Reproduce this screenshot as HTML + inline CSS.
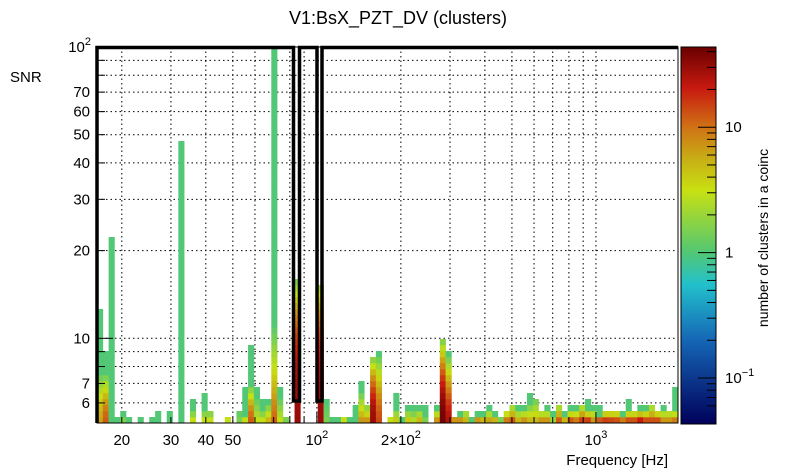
<!DOCTYPE html>
<html><head><meta charset="utf-8"><style>
html,body{margin:0;padding:0;background:#fff;}
svg{display:block;font-family:"Liberation Sans",Arial,sans-serif;}
</style></head><body>
<svg id="c" width="805" height="472" viewBox="0 0 805 472" xmlns="http://www.w3.org/2000/svg">
<defs>
<linearGradient id="pal" x1="0" y1="1" x2="0" y2="0">
<stop offset="0" stop-color="#00005a"/><stop offset="0.22" stop-color="#1565b5"/><stop offset="0.37" stop-color="#22c0cc"/><stop offset="0.46" stop-color="#55c870"/><stop offset="0.62" stop-color="#c8e012"/><stop offset="0.70" stop-color="#c8b015"/><stop offset="0.79" stop-color="#d07015"/><stop offset="0.89" stop-color="#c81a10"/><stop offset="1" stop-color="#6a0000"/>
</linearGradient>
</defs>
<text x="398" y="24" font-size="18" text-anchor="middle">V1:BsX_PZT_DV (clusters)</text>
<text x="10" y="82" font-size="15">SNR</text>
<text x="668" y="465" font-size="15" text-anchor="end">Frequency [Hz]</text>
<text transform="translate(768,238) rotate(-90)" font-size="14" text-anchor="middle">number of clusters in a coinc</text>
<g id="grid"></g>
<g id="cells"></g>
<g id="axes"></g>
<rect x="681" y="47" width="35" height="377" fill="url(#pal)" stroke="#000" stroke-width="1"/>
<g id="cbar"></g>
</svg>
<script>
// data
const binSNR = [12.4,9.0,22.4,5.37,5.63,5.37,0,5.37,0,5.37,5.63,0,5.63,0,47,0,6.18,0,6.48,5.63,0,0,5.37,0,5.63,6.79,9.4,6.79,6.18,6.18,100,6.79,5.37,0,15.7,0,0,0,15.0,6.18,5.37,5.37,5.37,5.37,5.90,7.12,5.90,8.6,9.0,0,5.37,6.48,5.37,5.90,5.90,5.90,5.90,0,5.90,9.9,9.0,5.37,5.63,5.63,5.37,5.63,5.63,5.90,5.63,5.37,5.63,5.90,5.90,5.90,6.48,6.18,5.63,5.90,5.63,5.90,5.63,5.90,5.90,5.90,6.18,5.90,5.90,5.63,5.63,5.63,5.63,6.18,5.63,5.90,5.90,5.90,5.63,5.90,5.63,6.79];
const binCount = [6,12,1,1,1.5,1,0,1,0,1,1,0,1,0,1,0,3,0,3,3,0,0,3,0,1.5,3,12,3,3,5,12,3,1.5,0,30,0,0,0,30,1.5,1,1,3,1,1,7,7,30,14,0,3,4,1,4,2.5,5,1.5,0,7,40,25,7,7,5,1,7,5,6,5,1.5,9,12,5,7,5,5,7,7,2,12,5,12,9,15,15,7,12,15,14,13,9,13,13,20,13,13,13,7,7,9];
const binWarm = [8,8,1,1,1,1,0,1,0,1,1,0,1,0,1,0,2,0,2,2,0,0,1,0,2,1,6,4,2,3,16,4,1,0,24,0,0,0,24,3,1,1,1,1,1,5,3,11,11,0,1,2,1,2,2,2,1,0,2,14,11,1,1,2,1,1,1,2,1,1,2,3,2,2,3,4,2,2,1,3,1,2,2,3,2,2,1,2,2,2,1,2,2,2,2,3,2,2,2,2];
const binShape = [1.5,1.5,1,1,1,1,1,1,1,1,1,1,1,1,1,1,1,1,1,1,1,1,1,1,1,1,1.5,1,1,1,1,1,1,1,3,1,1,1,3,1,1,1,1,1,1,1,1,2,1.5,1,1,1,1,1,1,1,1,1,1,2,1.5,1,1,1,1,1,1,1,1,1,1,1,1,1,1,1,1,1,1,1,1,1,1,1,1,1,1,1,1,1,1,1,1,1,1,1,1,1,1,1];
const xTicks = [20,30,40,50,60,70,80,90,100,200,300,400,500,600,700,800,900,1000];
const xLabels = [[20,"20"],[30,"30"],[40,"40"],[50,"50"]];
const yTicks = [6,7,8,9,10,20,30,40,50,60,70,80,90,100];
const yLabels = [6,7,10,20,30,40,50,60,70];
const cbTicks = [10,1,0.1];

const NS="http://www.w3.org/2000/svg";
const X0=97,X1=678,Y0=47,Y1=423;
const xMin=Math.log10(16.3),xMax=Math.log10(1968);
const yMin=Math.log10(5.12),yMax=2;
const xs=v=>X0+(Math.log10(v)-xMin)/(xMax-xMin)*(X1-X0);
const ys=v=>Y1-(Math.log10(v)-yMin)/(yMax-yMin)*(Y1-Y0);
const cMin=Math.log10(0.043),cMax=Math.log10(43.6);
const cy=v=>424-(Math.log10(v)-cMin)/(cMax-cMin)*377;
const stops=[[0,[0,0,90]],[0.22,[21,101,181]],[0.37,[34,192,204]],[0.46,[85,200,112]],[0.62,[200,224,18]],[0.70,[200,176,21]],[0.79,[208,112,21]],[0.89,[200,26,16]],[1,[106,0,0]]];
function col(c){let t=(Math.log10(c)-cMin)/(cMax-cMin);t=Math.max(0,Math.min(1,t));
 for(let i=1;i<stops.length;i++){if(t<=stops[i][0]){const a=stops[i-1],b=stops[i],f=(t-a[0])/(b[0]-a[0]);
 return "rgb("+a[1].map((v,k)=>Math.round(v+(b[1][k]-v)*f)).join(",")+")";}}return "rgb(106,0,0)";}
function mk(tag,at,parent){const e=document.createElementNS(NS,tag);for(const k in at)e.setAttribute(k,at[k]);parent.appendChild(e);return e;}
const grid=document.getElementById('grid'),cells=document.getElementById('cells'),axes=document.getElementById('axes'),cbar=document.getElementById('cbar');
xTicks.forEach(v=>{const l=mk('line',{x1:xs(v),x2:xs(v),y1:Y0,y2:Y1,stroke:'#000','stroke-width':1,'stroke-dasharray':'1.5,3'},grid);

});
yTicks.forEach(v=>{const l=mk('line',{x1:X0,x2:X1,y1:ys(v),y2:ys(v),stroke:'#000','stroke-width':1,'stroke-dasharray':'1.5,3'},grid);

});
// cells
const N=binSNR.length,bw=(X1-X0)/N;
const rStep=6/292;
for(let i=0;i<N;i++){if(!binSNR[i])continue;
 const n=Math.max(1,Math.round(Math.log10(binSNR[i]/5.12)/rStep));
 for(let k=0;k<n;k++){const w=binWarm[i];let c=binCount[i];
  c=(k<w)?Math.pow(c,1-Math.pow(k/w,binShape[i])):1;
  const yb=Math.max(Y0,Y1-k*6),yt=Math.max(Y0,Y1-(k+1)*6);if(yb<=yt)break;
  const r=mk('rect',{x:(X0+i*bw).toFixed(2),y:yt,width:(bw+0.3).toFixed(2),height:yb-yt+0.3,fill:col(c)},cells);
  
  }}
// contour
const p=mk('path',{d:'M97,423 V47.5 H293.5 V401 H299.5 V47.5 H317 V401 H322 V47.5 H678',fill:'none',stroke:'#000','stroke-width':3.5},axes);


const fr=mk('rect',{x:X0,y:Y0,width:X1-X0,height:Y1-Y0,fill:'none',stroke:'#000','stroke-width':1},axes);


xTicks.forEach(v=>{const big=(v===100||v===1000);const l=mk('line',{x1:xs(v),x2:xs(v),y1:Y1,y2:Y1-(big?11:6),stroke:'#000'},axes);

});
yTicks.forEach(v=>{const big=(v===10||v===100);const l=mk('line',{x1:X0,x2:X0+(big?16:8),y1:ys(v),y2:ys(v),stroke:'#000'},axes);

});
xLabels.forEach(d=>{const t=mk('text',{x:xs(d[0]),y:445,'font-size':15,'text-anchor':'middle'},axes);t.textContent=d[1];

});
function pow(x,y,pre,exp,parent,anchor,name){const t=mk('text',{x:x,y:y,'font-size':15,'text-anchor':anchor},parent);
 t.appendChild(document.createTextNode(pre+'10'));const s=mk('tspan',{dy:-7,'font-size':11},t);s.textContent=exp;
 
 return t;}
pow(xs(100),445,'','2',axes,'middle','x-tick-label');
pow(xs(200),445,'2\u00d7','2',axes,'middle','x-tick-label');
pow(xs(1000),445,'','3',axes,'middle','x-tick-label');
yLabels.forEach(v=>{const t=mk('text',{x:90,y:ys(v)+5,'font-size':15,'text-anchor':'end'},axes);t.textContent=v;

});
pow(91,ys(100)+5,'','2',axes,'end','y-tick-label');
// colorbar ticks
[0.06,0.07,0.08,0.09,0.1,0.2,0.3,0.4,0.5,0.6,0.7,0.8,0.9,1,2,3,4,5,6,7,8,9,10,20,30,40].forEach(v=>{const big=[0.1,1,10].includes(v);
 const l=mk('line',{x1:716,x2:716-(big?18:9),y1:cy(v),y2:cy(v),stroke:'#000'},cbar);
 
 });
cbTicks.forEach(v=>{if(v===0.1){pow(725,cy(v)+5,'','\u22121',cbar,'start','colorbar-tick-label');return;}
 const t=mk('text',{x:725,y:cy(v)+5,'font-size':15},cbar);t.textContent=v;
 
 });
</script>
</body></html>
